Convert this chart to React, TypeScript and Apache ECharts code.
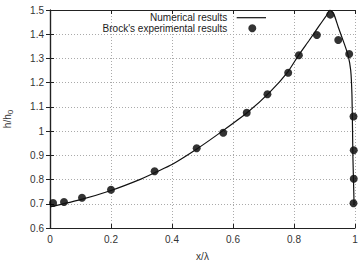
import React, { useEffect, useRef } from "react";
import * as echarts from "echarts";

const xTicks = [0, 0.2, 0.4, 0.6, 0.8, 1];
const yTicks = [0.6, 0.7, 0.8, 0.9, 1, 1.1, 1.2, 1.3, 1.4, 1.5];

const numX = [0, 0.1, 0.2, 0.3, 0.35, 0.4, 0.48, 0.565, 0.65, 0.72, 0.78, 0.816, 0.85, 0.88, 0.905, 0.918, 0.93, 0.945, 0.965, 0.978, 0.986, 0.99, 0.992, 0.993, 0.995, 0.997];
const numY = [0.687, 0.717, 0.755, 0.803, 0.832, 0.862, 0.925, 1.0, 1.08, 1.16, 1.245, 1.315, 1.375, 1.43, 1.475, 1.5, 1.485, 1.43, 1.36, 1.31, 1.25, 1.15, 1.0, 0.9, 0.8, 0.695];

const expX = [0.01, 0.046, 0.105, 0.2, 0.343, 0.481, 0.568, 0.645, 0.713, 0.781, 0.816, 0.875, 0.919, 0.945, 0.981, 0.995, 0.996, 0.996, 0.995];
const expY = [0.703, 0.707, 0.725, 0.758, 0.834, 0.929, 0.993, 1.076, 1.152, 1.241, 1.313, 1.397, 1.481, 1.376, 1.318, 1.06, 0.921, 0.803, 0.702];

const FONT = "Liberation Sans";

export default function App() {
  const ref = useRef<HTMLDivElement>(null);
  useEffect(() => {
    if (!ref.current) return;
    const chart = echarts.init(ref.current, undefined, { renderer: "svg" });
    const axisLine = { show: true, lineStyle: { color: "#222", width: 1.2 } };
    const tick = { show: true, inside: true, length: 4, lineStyle: { color: "#222" } };
    const split = { show: true, lineStyle: { color: "#aaa", type: [1, 2], width: 1 } };
    chart.setOption({
      animation: false,
      textStyle: { fontFamily: FONT },
      grid: { left: 50, right: 4, top: 10, bottom: 34, containLabel: false, outerBoundsMode: "none" },
      legend: [
        {
          data: [{ name: "Numerical results", icon: "rect" }],
          right: 93,
          top: 12.7,
          align: "right",
          itemWidth: 29.3,
          itemHeight: 1.2,
          textStyle: { fontSize: 10, lineHeight: 10, color: "#222", fontFamily: FONT, padding: [0, 4.4, 0, 0] },
          padding: 0,
          selectedMode: false,
        },
        {
          data: [{ name: "Brock's experimental results", icon: "circle" }],
          right: 102.7,
          top: 23.3,
          align: "right",
          itemWidth: 8,
          itemHeight: 8,
          textStyle: { fontSize: 10, lineHeight: 10, color: "#222", fontFamily: FONT, padding: [0, 16, 0, 0] },
          padding: 0,
          selectedMode: false,
        },
      ],
      xAxis: [
        {
          type: "value",
          min: 0,
          max: 1,
          interval: 0.2,
          name: "x/λ",
          nameLocation: "middle",
          nameGap: 23,
          nameTextStyle: { fontSize: 10, color: "#333" },
          axisLine,
          axisTick: tick,
          splitLine: split,
          axisLabel: {
            fontSize: 10,
            color: "#333",
            margin: 6,
            formatter: (v: number) => String(xTicks.find((t) => Math.abs(t - v) < 1e-6) ?? v),
          },
        },
        {
          type: "value",
          position: "top",
          min: 0,
          max: 1,
          interval: 0.2,
          axisLine,
          axisTick: tick,
          splitLine: { show: false },
          axisLabel: { show: false },
        },
      ],
      yAxis: [
        {
          type: "value",
          min: 0.6,
          max: 1.5,
          interval: 0.1,
          name: "h/h{s|0}",
          nameLocation: "middle",
          nameGap: 36,
          nameRotate: 90,
          nameTextStyle: {
            fontSize: 10,
            color: "#333",
            rich: { s: { fontSize: 8, color: "#333", verticalAlign: "bottom", padding: [6, 0, 0, 0] } },
          },
          axisLine,
          axisTick: tick,
          splitLine: split,
          axisLabel: {
            fontSize: 10,
            color: "#333",
            margin: 6,
            formatter: (v: number) => {
              const t = yTicks.find((y) => Math.abs(y - v) < 1e-6);
              return t === undefined ? "" : String(t);
            },
          },
        },
        {
          type: "value",
          position: "right",
          min: 0.6,
          max: 1.5,
          interval: 0.1,
          axisLine,
          axisTick: tick,
          splitLine: { show: false },
          axisLabel: { show: false },
        },
      ],
      series: [
        {
          name: "Numerical results",
          type: "line",
          data: numX.map((x, i) => [x, numY[i]]),
          showSymbol: false,
          symbol: "none",
          smooth: 0.2,
          lineStyle: { color: "#111", width: 1.2 },
          itemStyle: { color: "#111" },
        },
        {
          name: "Brock's experimental results",
          type: "scatter",
          data: expX.map((x, i) => [x, expY[i]]),
          symbol: "circle",
          symbolSize: 8,
          itemStyle: { color: "#000" },
        },
      ],
    });
    return () => chart.dispose();
  }, []);
  return <div ref={ref} style={{ width: 359, height: 262, position: "absolute", left: 0, top: 0 }} />;
}
